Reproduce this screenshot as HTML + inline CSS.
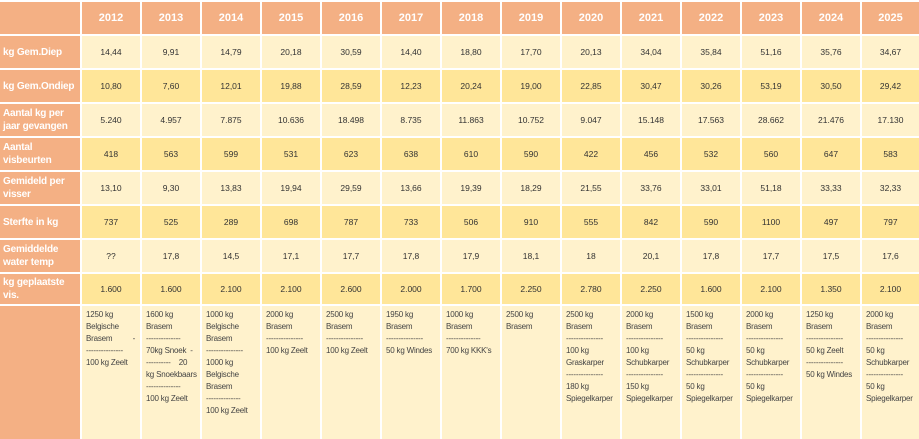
<!DOCTYPE html>
<html><head><meta charset="utf-8"><style>
body{margin:0;width:919px;height:439px;background:#fff;position:relative;overflow:hidden;font-family:"Liberation Sans",sans-serif}
.c{position:absolute;display:flex;align-items:center;justify-content:center;font-size:8.5px;color:#333;box-sizing:border-box}
.h{background:#f4b084;color:#fff;font-weight:bold;font-size:11px}
.l{background:#f4b084;color:#fff;font-weight:bold;font-size:10px;letter-spacing:-0.2px;justify-content:flex-start;padding-left:3px;line-height:13px;text-align:left}
.a{background:#fff2cc}.b{background:#ffe699}
.n{position:absolute;top:306px;height:133px;width:58px;background:#fff2cc;font-size:8px;color:#444;line-height:12px;padding:3px 0 0 4px;box-sizing:border-box;white-space:pre;overflow:hidden;letter-spacing:-0.2px}
</style></head><body>
<div class="c h" style="left:0;top:2px;width:80px;height:32px"></div>
<div class="c h" style="left:82px;top:2px;width:58px;height:32px">2012</div>
<div class="c h" style="left:142px;top:2px;width:58px;height:32px">2013</div>
<div class="c h" style="left:202px;top:2px;width:58px;height:32px">2014</div>
<div class="c h" style="left:262px;top:2px;width:58px;height:32px">2015</div>
<div class="c h" style="left:322px;top:2px;width:58px;height:32px">2016</div>
<div class="c h" style="left:382px;top:2px;width:58px;height:32px">2017</div>
<div class="c h" style="left:442px;top:2px;width:58px;height:32px">2018</div>
<div class="c h" style="left:502px;top:2px;width:58px;height:32px">2019</div>
<div class="c h" style="left:562px;top:2px;width:58px;height:32px">2020</div>
<div class="c h" style="left:622px;top:2px;width:58px;height:32px">2021</div>
<div class="c h" style="left:682px;top:2px;width:58px;height:32px">2022</div>
<div class="c h" style="left:742px;top:2px;width:58px;height:32px">2023</div>
<div class="c h" style="left:802px;top:2px;width:58px;height:32px">2024</div>
<div class="c h" style="left:862px;top:2px;width:57px;height:32px">2025</div>

<div class="c l" style="left:0;top:36px;width:80px;height:32px">kg Gem.Diep</div>
<div class="c l" style="left:0;top:70px;width:80px;height:32px;white-space:nowrap">kg Gem.Ondiep</div>
<div class="c l" style="left:0;top:104px;width:80px;height:32px">Aantal kg per jaar gevangen</div>
<div class="c l" style="left:0;top:138px;width:80px;height:32px">Aantal visbeurten</div>
<div class="c l" style="left:0;top:172px;width:80px;height:32px">Gemideld per visser</div>
<div class="c l" style="left:0;top:206px;width:80px;height:32px">Sterfte in kg</div>
<div class="c l" style="left:0;top:240px;width:80px;height:32px">Gemiddelde water temp</div>
<div class="c l" style="left:0;top:274px;width:80px;height:30px">kg geplaatste vis.</div>
<div class="c l" style="left:0;top:306px;width:80px;height:133px"></div>

<div class="c a" style="left:82px;top:36px;width:58px;height:32px">14,44</div><div class="c a" style="left:142px;top:36px;width:58px;height:32px">9,91</div><div class="c a" style="left:202px;top:36px;width:58px;height:32px">14,79</div><div class="c a" style="left:262px;top:36px;width:58px;height:32px">20,18</div><div class="c a" style="left:322px;top:36px;width:58px;height:32px">30,59</div><div class="c a" style="left:382px;top:36px;width:58px;height:32px">14,40</div><div class="c a" style="left:442px;top:36px;width:58px;height:32px">18,80</div><div class="c a" style="left:502px;top:36px;width:58px;height:32px">17,70</div><div class="c a" style="left:562px;top:36px;width:58px;height:32px">20,13</div><div class="c a" style="left:622px;top:36px;width:58px;height:32px">34,04</div><div class="c a" style="left:682px;top:36px;width:58px;height:32px">35,84</div><div class="c a" style="left:742px;top:36px;width:58px;height:32px">51,16</div><div class="c a" style="left:802px;top:36px;width:58px;height:32px">35,76</div><div class="c a" style="left:862px;top:36px;width:57px;height:32px">34,67</div>

<div class="c b" style="left:82px;top:70px;width:58px;height:32px">10,80</div><div class="c b" style="left:142px;top:70px;width:58px;height:32px">7,60</div><div class="c b" style="left:202px;top:70px;width:58px;height:32px">12,01</div><div class="c b" style="left:262px;top:70px;width:58px;height:32px">19,88</div><div class="c b" style="left:322px;top:70px;width:58px;height:32px">28,59</div><div class="c b" style="left:382px;top:70px;width:58px;height:32px">12,23</div><div class="c b" style="left:442px;top:70px;width:58px;height:32px">20,24</div><div class="c b" style="left:502px;top:70px;width:58px;height:32px">19,00</div><div class="c b" style="left:562px;top:70px;width:58px;height:32px">22,85</div><div class="c b" style="left:622px;top:70px;width:58px;height:32px">30,47</div><div class="c b" style="left:682px;top:70px;width:58px;height:32px">30,26</div><div class="c b" style="left:742px;top:70px;width:58px;height:32px">53,19</div><div class="c b" style="left:802px;top:70px;width:58px;height:32px">30,50</div><div class="c b" style="left:862px;top:70px;width:57px;height:32px">29,42</div>

<div class="c a" style="left:82px;top:104px;width:58px;height:32px">5.240</div><div class="c a" style="left:142px;top:104px;width:58px;height:32px">4.957</div><div class="c a" style="left:202px;top:104px;width:58px;height:32px">7.875</div><div class="c a" style="left:262px;top:104px;width:58px;height:32px">10.636</div><div class="c a" style="left:322px;top:104px;width:58px;height:32px">18.498</div><div class="c a" style="left:382px;top:104px;width:58px;height:32px">8.735</div><div class="c a" style="left:442px;top:104px;width:58px;height:32px">11.863</div><div class="c a" style="left:502px;top:104px;width:58px;height:32px">10.752</div><div class="c a" style="left:562px;top:104px;width:58px;height:32px">9.047</div><div class="c a" style="left:622px;top:104px;width:58px;height:32px">15.148</div><div class="c a" style="left:682px;top:104px;width:58px;height:32px">17.563</div><div class="c a" style="left:742px;top:104px;width:58px;height:32px">28.662</div><div class="c a" style="left:802px;top:104px;width:58px;height:32px">21.476</div><div class="c a" style="left:862px;top:104px;width:57px;height:32px">17.130</div>

<div class="c b" style="left:82px;top:138px;width:58px;height:32px">418</div><div class="c b" style="left:142px;top:138px;width:58px;height:32px">563</div><div class="c b" style="left:202px;top:138px;width:58px;height:32px">599</div><div class="c b" style="left:262px;top:138px;width:58px;height:32px">531</div><div class="c b" style="left:322px;top:138px;width:58px;height:32px">623</div><div class="c b" style="left:382px;top:138px;width:58px;height:32px">638</div><div class="c b" style="left:442px;top:138px;width:58px;height:32px">610</div><div class="c b" style="left:502px;top:138px;width:58px;height:32px">590</div><div class="c b" style="left:562px;top:138px;width:58px;height:32px">422</div><div class="c b" style="left:622px;top:138px;width:58px;height:32px">456</div><div class="c b" style="left:682px;top:138px;width:58px;height:32px">532</div><div class="c b" style="left:742px;top:138px;width:58px;height:32px">560</div><div class="c b" style="left:802px;top:138px;width:58px;height:32px">647</div><div class="c b" style="left:862px;top:138px;width:57px;height:32px">583</div>

<div class="c a" style="left:82px;top:172px;width:58px;height:32px">13,10</div><div class="c a" style="left:142px;top:172px;width:58px;height:32px">9,30</div><div class="c a" style="left:202px;top:172px;width:58px;height:32px">13,83</div><div class="c a" style="left:262px;top:172px;width:58px;height:32px">19,94</div><div class="c a" style="left:322px;top:172px;width:58px;height:32px">29,59</div><div class="c a" style="left:382px;top:172px;width:58px;height:32px">13,66</div><div class="c a" style="left:442px;top:172px;width:58px;height:32px">19,39</div><div class="c a" style="left:502px;top:172px;width:58px;height:32px">18,29</div><div class="c a" style="left:562px;top:172px;width:58px;height:32px">21,55</div><div class="c a" style="left:622px;top:172px;width:58px;height:32px">33,76</div><div class="c a" style="left:682px;top:172px;width:58px;height:32px">33,01</div><div class="c a" style="left:742px;top:172px;width:58px;height:32px">51,18</div><div class="c a" style="left:802px;top:172px;width:58px;height:32px">33,33</div><div class="c a" style="left:862px;top:172px;width:57px;height:32px">32,33</div>

<div class="c b" style="left:82px;top:206px;width:58px;height:32px">737</div><div class="c b" style="left:142px;top:206px;width:58px;height:32px">525</div><div class="c b" style="left:202px;top:206px;width:58px;height:32px">289</div><div class="c b" style="left:262px;top:206px;width:58px;height:32px">698</div><div class="c b" style="left:322px;top:206px;width:58px;height:32px">787</div><div class="c b" style="left:382px;top:206px;width:58px;height:32px">733</div><div class="c b" style="left:442px;top:206px;width:58px;height:32px">506</div><div class="c b" style="left:502px;top:206px;width:58px;height:32px">910</div><div class="c b" style="left:562px;top:206px;width:58px;height:32px">555</div><div class="c b" style="left:622px;top:206px;width:58px;height:32px">842</div><div class="c b" style="left:682px;top:206px;width:58px;height:32px">590</div><div class="c b" style="left:742px;top:206px;width:58px;height:32px">1100</div><div class="c b" style="left:802px;top:206px;width:58px;height:32px">497</div><div class="c b" style="left:862px;top:206px;width:57px;height:32px">797</div>

<div class="c a" style="left:82px;top:240px;width:58px;height:32px">??</div><div class="c a" style="left:142px;top:240px;width:58px;height:32px">17,8</div><div class="c a" style="left:202px;top:240px;width:58px;height:32px">14,5</div><div class="c a" style="left:262px;top:240px;width:58px;height:32px">17,1</div><div class="c a" style="left:322px;top:240px;width:58px;height:32px">17,7</div><div class="c a" style="left:382px;top:240px;width:58px;height:32px">17,8</div><div class="c a" style="left:442px;top:240px;width:58px;height:32px">17,9</div><div class="c a" style="left:502px;top:240px;width:58px;height:32px">18,1</div><div class="c a" style="left:562px;top:240px;width:58px;height:32px">18</div><div class="c a" style="left:622px;top:240px;width:58px;height:32px">20,1</div><div class="c a" style="left:682px;top:240px;width:58px;height:32px">17,8</div><div class="c a" style="left:742px;top:240px;width:58px;height:32px">17,7</div><div class="c a" style="left:802px;top:240px;width:58px;height:32px">17,5</div><div class="c a" style="left:862px;top:240px;width:57px;height:32px">17,6</div>

<div class="c b" style="left:82px;top:274px;width:58px;height:30px">1.600</div><div class="c b" style="left:142px;top:274px;width:58px;height:30px">1.600</div><div class="c b" style="left:202px;top:274px;width:58px;height:30px">2.100</div><div class="c b" style="left:262px;top:274px;width:58px;height:30px">2.100</div><div class="c b" style="left:322px;top:274px;width:58px;height:30px">2.600</div><div class="c b" style="left:382px;top:274px;width:58px;height:30px">2.000</div><div class="c b" style="left:442px;top:274px;width:58px;height:30px">1.700</div><div class="c b" style="left:502px;top:274px;width:58px;height:30px">2.250</div><div class="c b" style="left:562px;top:274px;width:58px;height:30px">2.780</div><div class="c b" style="left:622px;top:274px;width:58px;height:30px">2.250</div><div class="c b" style="left:682px;top:274px;width:58px;height:30px">1.600</div><div class="c b" style="left:742px;top:274px;width:58px;height:30px">2.100</div><div class="c b" style="left:802px;top:274px;width:58px;height:30px">1.350</div><div class="c b" style="left:862px;top:274px;width:57px;height:30px">2.100</div>

<div class="n" style="left:82px">1250 kg
Belgische
Brasem          -
---------------
100 kg Zeelt</div>
<div class="n" style="left:142px">1600 kg
Brasem
--------------
70kg Snoek  -
----------    20
kg Snoekbaars
--------------
100 kg Zeelt</div>
<div class="n" style="left:202px">1000 kg
Belgische
Brasem
---------------
1000 kg
Belgische
Brasem
--------------
100 kg Zeelt</div>
<div class="n" style="left:262px">2000 kg
Brasem
---------------
100 kg Zeelt</div>
<div class="n" style="left:322px">2500 kg
Brasem
---------------
100 kg Zeelt</div>
<div class="n" style="left:382px">1950 kg
Brasem
---------------
50 kg Windes</div>
<div class="n" style="left:442px">1000 kg
Brasem
--------------
700 kg KKK's</div>
<div class="n" style="left:502px">2500 kg
Brasem</div>
<div class="n" style="left:562px">2500 kg
Brasem
---------------
100 kg
Graskarper
---------------
180 kg
Spiegelkarper</div>
<div class="n" style="left:622px">2000 kg
Brasem
---------------
100 kg
Schubkarper
---------------
150 kg
Spiegelkarper</div>
<div class="n" style="left:682px">1500 kg
Brasem
---------------
50 kg
Schubkarper
---------------
50 kg
Spiegelkarper</div>
<div class="n" style="left:742px">2000 kg
Brasem
---------------
50 kg
Schubkarper
---------------
50 kg
Spiegelkarper</div>
<div class="n" style="left:802px">1250 kg
Brasem
---------------
50 kg Zeelt
---------------
50 kg Windes</div>
<div class="n" style="left:862px;width:57px">2000 kg
Brasem
---------------
50 kg
Schubkarper
---------------
50 kg
Spiegelkarper</div>
</body></html>
